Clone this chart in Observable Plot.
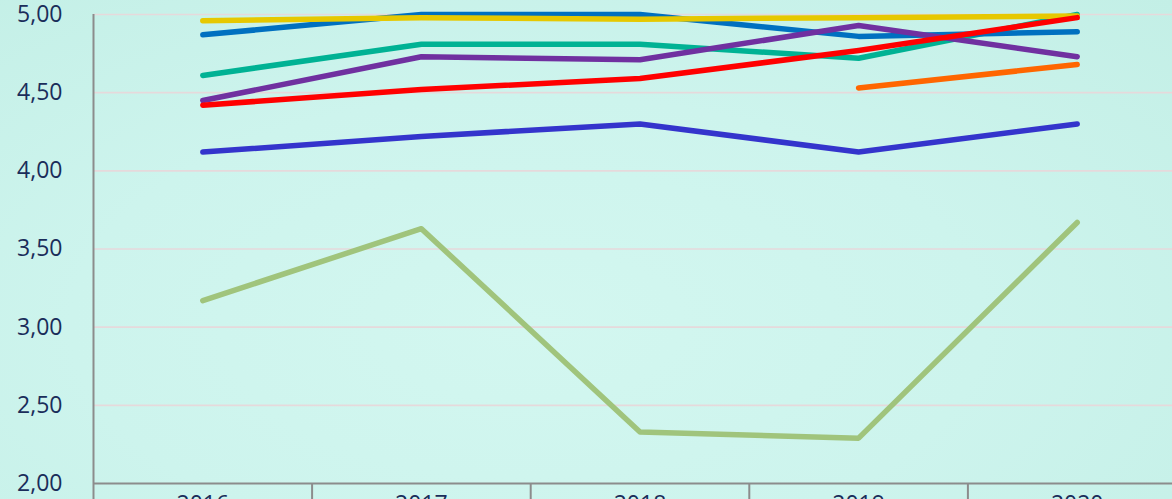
<!DOCTYPE html>
<html>
<head>
<meta charset="utf-8">
<script src="https://cdn.jsdelivr.net/npm/d3@7"></script>
<script src="https://cdn.jsdelivr.net/npm/@observablehq/plot@0.6"></script>
<style>
  html, body { margin: 0; padding: 0; width: 1172px; height: 499px; overflow: hidden; }
  body { background: radial-gradient(ellipse at 45% 65%, #d3f7f0 0%, #cdf4ed 50%, #c3efe6 100%); }
  #chart svg { display: block; max-width: none !important; }
</style>
</head>
<body>
<div id="chart"></div>
<script>
const years = ["2016", "2017", "2018", "2019", "2020"];
const yTicks = [2.0, 2.5, 3.0, 3.5, 4.0, 4.5, 5.0];

const seriesNames = ["S1", "S2", "S3", "S4", "S5", "S6", "S7", "S8"];
const seriesColors = ["#a0c47c", "#3434cc", "#00b294", "#0070c0", "#e6c800", "#7030a0", "#ff6600", "#ff0000"];

const s1 = [3.17, 3.63, 2.33, 2.29, 3.67];
const s2 = [4.12, 4.22, 4.30, 4.12, 4.30];
const s3 = [4.61, 4.81, 4.81, 4.72, 5.00];
const s4 = [4.87, 5.00, 5.00, 4.86, 4.89];
const s5 = [4.96, 4.98, 4.97, 4.98, 4.99];
const s6 = [4.45, 4.73, 4.71, 4.93, 4.73];
const s7 = [null, null, null, 4.53, 4.68];
const s8 = [4.42, 4.52, 4.59, 4.77, 4.98];

const seriesValues = [s1, s2, s3, s4, s5, s6, s7, s8];

const rows = [];
seriesNames.forEach((name, s) => {
  seriesValues[s].forEach((v, i) => {
    if (v != null) rows.push({series: name, idx: i, value: v});
  });
});

const bandEdges = d3.range(years.length + 1).map(i => i - 0.5);
const fmt = d => d.toFixed(2).replace(".", ",");

const chart = Plot.plot({
  width: 1186,
  height: 530,
  marginLeft: 93,
  marginRight: 0,
  marginTop: 14,
  marginBottom: 47,
  style: {background: "transparent", fontFamily: "'Open Sans', sans-serif", overflow: "visible"},
  x: {domain: [-0.5, years.length - 0.5], axis: null},
  y: {domain: [2, 5], axis: null},
  color: {type: "ordinal", domain: seriesNames, range: seriesColors},
  marks: [
    Plot.ruleY(yTicks.filter(t => t > 2), {stroke: "#e6d9db", strokeWidth: 1.6}),
    Plot.ruleX(bandEdges, {y1: 2, y2: 1.84, stroke: "#8c8c8c", strokeWidth: 2}),
    Plot.ruleX([bandEdges[0]], {y1: 2, y2: 5, stroke: "#8c8c8c", strokeWidth: 2}),
    Plot.ruleY([2], {stroke: "#8c8c8c", strokeWidth: 2}),
    Plot.axisY({ticks: yTicks, label: null, tickSize: 0, tickPadding: 31, tickFormat: fmt, fontSize: 23, color: "#1a2d5a"}),
    Plot.axisX({ticks: d3.range(years.length), label: null, tickSize: 0, tickPadding: 12, tickFormat: i => years[i], fontSize: 23, color: "#1a2d5a"}),
    Plot.line(rows, {x: "idx", y: "value", z: "series", stroke: "series", strokeWidth: 5.5, strokeLinecap: "round", strokeLinejoin: "round"})
  ]
});
document.getElementById("chart").appendChild(chart);
</script>
</body>
</html>
